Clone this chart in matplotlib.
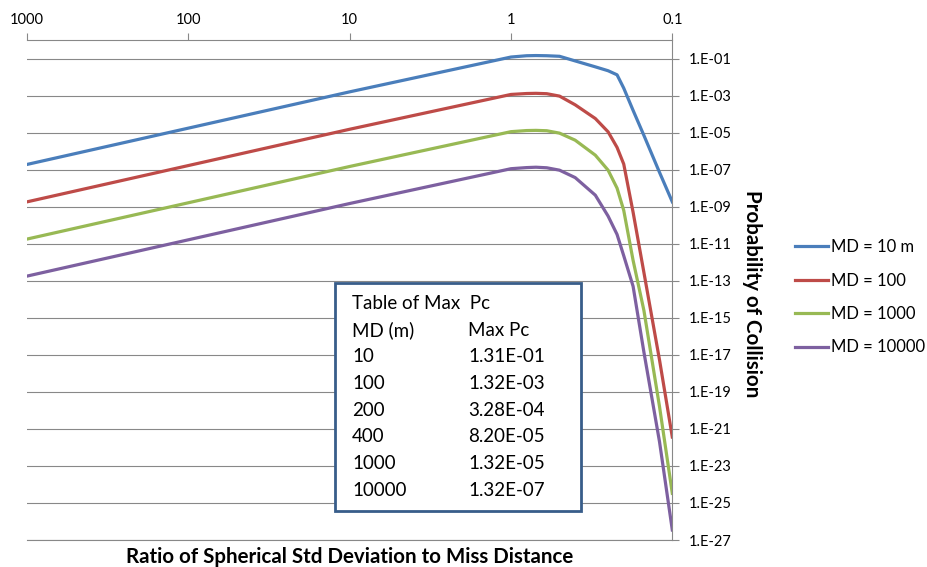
import numpy as np
import matplotlib.pyplot as plt
from matplotlib.patches import Rectangle

plt.rcParams['font.family'] = ['Lato', 'DejaVu Sans']

# ratio of spherical std deviation to miss distance
ratio = [1000, 100, 10, 1, 0.8, 0.7, 0.6, 0.5, 0.4, 0.3, 0.25, 0.22, 0.2, 0.175, 0.15, 0.12, 0.1]

# log10 of probability of collision
log_md10 = [-6.72, -4.76, -2.8, -0.92, -0.85, -0.84, -0.85, -0.88, -1.13, -1.45,
            -1.66, -1.88, -2.6, -3.8, -5.15, -7.15, -8.74]
log_md100 = [-8.74, -6.78, -4.82, -2.94, -2.89, -2.88, -2.9, -3.03, -3.5, -4.24,
             -4.96, -5.8, -6.7, -9.3, -12.55, -17.28, -21.44]
log_md1000 = [-10.75, -8.79, -6.83, -4.95, -4.89, -4.88, -4.9, -5.03, -5.41, -6.22,
              -7.03, -8.0, -9.2, -11.9, -14.6, -19.8, -24.48]
log_md10000 = [-12.75, -10.79, -8.83, -6.95, -6.89, -6.87, -6.9, -7.03, -7.43, -8.38,
               -9.51, -10.5, -11.65, -13.3, -16.85, -21.7, -26.46]

series = [('MD = 10 m', log_md10, '#4A7EBB'),
          ('MD = 100', log_md100, '#BE4B48'),
          ('MD = 1000', log_md1000, '#98B954'),
          ('MD = 10000', log_md10000, '#7D60A0')]

table_md = ['10', '100', '200', '400', '1000', '10000']
table_maxpc = ['1.31E-01', '1.32E-03', '3.28E-04', '8.20E-05', '1.32E-05', '1.32E-07']

x_ticks = [1000, 100, 10, 1, 0.1]
x_labels = ['1000', '100', '10', '1', '0.1']
y_exps = np.arange(-27, 0, 2)

W, H = 927, 567
fig = plt.figure(figsize=(W / 100, H / 100), dpi=100)
ax = fig.add_axes([27 / W, 1 - 540 / H, (672.3 - 27) / W, 500 / H])

for name, vals, col in series:
    ax.plot(ratio, 10.0 ** np.array(vals), color=col, lw=2.3, label=name, solid_joinstyle='round')

ax.set_xscale('log')
ax.set_yscale('log')
ax.set_xlim(1000, 0.1)
ax.set_ylim(1e-27, 1)

grid_col = '#888888'
ax.xaxis.tick_top()
ax.set_xticks(x_ticks)
ax.set_xticklabels(x_labels)
ax.yaxis.tick_right()
ax.set_yticks(10.0 ** y_exps)
ax.set_yticklabels(['1.E-%02d' % -e for e in y_exps])
ax.minorticks_off()
ax.tick_params(axis='both', colors=grid_col, labelcolor='black', labelsize=10.5, length=5, width=0.8)
ax.tick_params(axis='y', pad=7)
ax.tick_params(axis='x', pad=4.5)
ax.grid(axis='y', color=grid_col, lw=0.8)
ax.set_axisbelow(True)
for side in ['top', 'right', 'bottom']:
    ax.spines[side].set_color(grid_col)
    ax.spines[side].set_linewidth(0.8)
ax.spines['left'].set_visible(False)

ax.yaxis.set_label_position('right')
ax.set_ylabel('Probability of Collision', rotation=-90, fontsize=14.8, fontweight='bold',
              va='center', ha='center')
ax.yaxis.set_label_coords((752 - 27) / (672.3 - 27), (540 - 294) / 500)

fig.text(349.5 / W, 1 - 557 / H, 'Ratio of Spherical Std Deviation to Miss Distance',
         ha='center', va='center', fontsize=14.8, fontweight='bold')

ax.legend(loc='upper left', bbox_to_anchor=(795 / W, 1 - 239 / H), bbox_transform=fig.transFigure,
          frameon=False, fontsize=12, handlelength=2.0, handletextpad=0.15, labelspacing=1.05,
          borderpad=0, borderaxespad=0)

# table of max Pc box
fig.add_artist(Rectangle((335 / W, 1 - 511 / H), (581 - 335) / W, (511 - 283) / H,
                         transform=fig.transFigure, facecolor='white', edgecolor='#385D8A', lw=2))
rows = [('Table of Max  Pc', '')] + [('MD (m)', 'Max Pc')] + list(zip(table_md, table_maxpc))
for i, (a, b) in enumerate(rows):
    y = 1 - (303.3 + i * 26.7) / H
    fig.text(352 / W, y, a, ha='left', va='center', fontsize=13.5)
    if b:
        fig.text(468 / W, y, b, ha='left', va='center', fontsize=13.5)

fig.savefig('out.png', dpi=100)
